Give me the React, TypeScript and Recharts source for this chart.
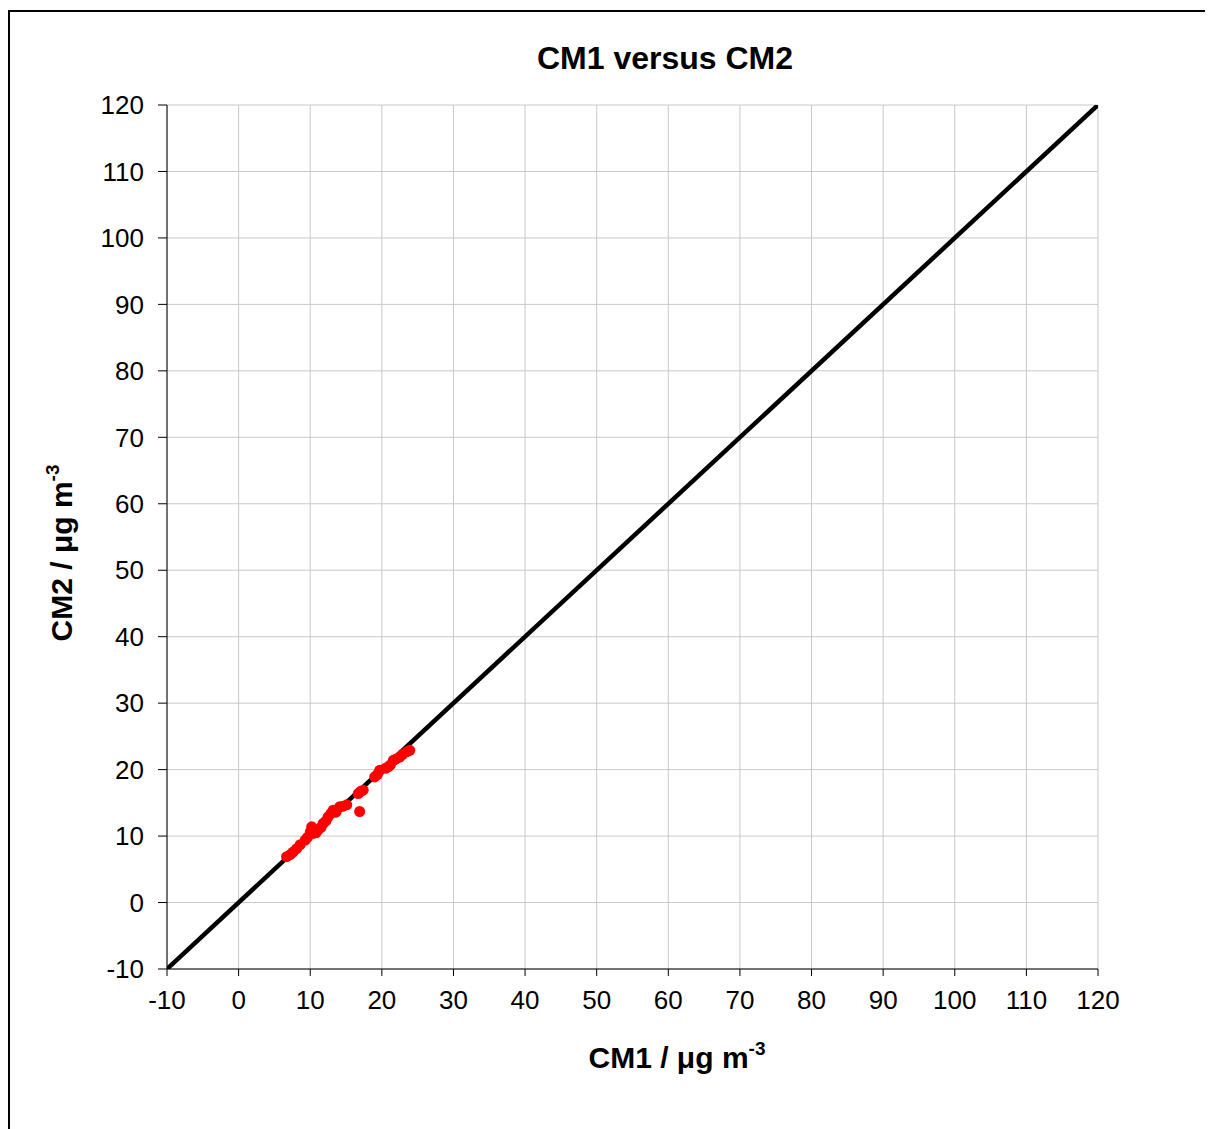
import React from 'react';
import {
  ScatterChart,
  Scatter,
  XAxis,
  YAxis,
  CartesianGrid,
  Label,
} from 'recharts';

const cm1 = [
  6.7, 7.2, 7.6, 8.1, 8.6, 9.3, 9.6, 10.0, 10.2, 10.4, 10.8, 11.1, 11.5, 11.8, 12.2,
  12.5, 12.9, 13.2, 13.6, 14.1, 14.6, 15.1, 16.7, 16.9, 17.0, 17.4, 19.0, 19.4, 19.7,
  20.5, 20.9, 21.2, 21.6, 22.0, 22.5, 22.9, 23.5, 23.9,
];
const cm2 = [
  6.9, 7.2, 7.6, 8.1, 8.7, 9.4, 9.8, 10.6, 11.4, 10.4, 10.5, 10.9, 11.3, 11.9, 12.3,
  12.9, 13.4, 13.9, 13.6, 14.4, 14.5, 14.7, 16.4, 13.7, 16.7, 16.9, 18.9, 19.3, 19.9,
  20.2, 20.4, 20.7, 21.4, 21.6, 21.9, 22.3, 22.7, 22.9,
];
const oneToOne = [-10, 120];
const xTicks = [-10, 0, 10, 20, 30, 40, 50, 60, 70, 80, 90, 100, 110, 120];
const yTicks = [-10, 0, 10, 20, 30, 40, 50, 60, 70, 80, 90, 100, 110, 120];

const points = cm1.map((x, i) => ({ x, y: cm2[i] }));
const diagonal = oneToOne.map((v) => ({ x: v, y: v }));

const FONT = '"Liberation Sans", Arial, sans-serif';

const NoShape = () => <g />;

// red dots, a bit bigger than the default scatter symbol
const Dot = (props: any) => <circle cx={props.cx} cy={props.cy} r={5.5} fill="#ff0000" />;

const XTitle = () => (
  <text x={667} y={1056} textAnchor="middle" fontFamily={FONT} fontSize={30} fontWeight="bold" fill="#000">
    CM1 / μg m
    <tspan dy={-13} fontSize={19}>-3</tspan>
  </text>
);

const YTitle = () => (
  <text
    x={62}
    y={541}
    transform="rotate(-90, 62, 541)"
    textAnchor="middle"
    fontFamily={FONT}
    fontSize={30}
    fontWeight="bold"
    fill="#000"
  >
    CM2 / μg m
    <tspan dy={-13} fontSize={19}>-3</tspan>
  </text>
);

export default function App() {
  return (
    <div
      style={{
        position: 'relative',
        top: 2,
        width: 1205,
        height: 1125,
        borderTop: '2px solid #000',
        borderLeft: '2px solid #000',
        boxSizing: 'border-box',
        fontFamily: FONT,
        background: '#fff',
      }}
    >
      <style>{'body { overflow: hidden; }'}</style>
      <div
        style={{
          position: 'absolute',
          left: 355,
          top: 30,
          width: 600,
          textAlign: 'center',
          fontSize: 32,
          lineHeight: '32px',
          fontWeight: 'bold',
          color: '#000',
        }}
      >
        CM1 versus CM2
      </div>
      <ScatterChart width={1195} height={1100} margin={{ top: 93, right: 107, bottom: 83, left: 97 }}>
        <CartesianGrid stroke="#c8c8c8" strokeWidth={1} />
        <XAxis
          type="number"
          dataKey="x"
          domain={[-10, 120]}
          ticks={xTicks}
          allowDataOverflow
          height={60}
          tickSize={7}
          tickMargin={15}
          axisLine={{ stroke: '#000', strokeWidth: 1 }}
          tickLine={{ stroke: '#000', strokeWidth: 1 }}
          tick={{ fill: '#000', fontSize: 26, fontFamily: FONT }}
        >
          <Label content={<XTitle />} />
        </XAxis>
        <YAxis
          type="number"
          dataKey="y"
          domain={[-10, 120]}
          ticks={yTicks}
          allowDataOverflow
          width={60}
          tickSize={9}
          tickMargin={14}
          axisLine={{ stroke: '#000', strokeWidth: 1 }}
          tickLine={{ stroke: '#000', strokeWidth: 1 }}
          tick={{ fill: '#000', fontSize: 26, fontFamily: FONT }}
        >
          <Label content={<YTitle />} />
        </YAxis>
        <Scatter
          data={diagonal}
          line={{ stroke: '#000', strokeWidth: 4.5 }}
          shape={<NoShape />}
          isAnimationActive={false}
        />
        <Scatter data={points} fill="#ff0000" shape={<Dot />} isAnimationActive={false} />
      </ScatterChart>
    </div>
  );
}
